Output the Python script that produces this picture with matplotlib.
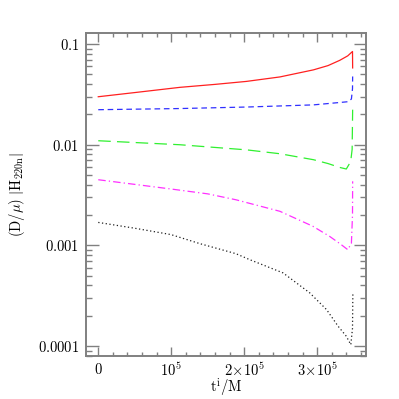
import matplotlib
matplotlib.use("Agg")
import matplotlib.pyplot as plt
from matplotlib.ticker import FixedLocator, LogLocator, NullFormatter, MultipleLocator

plt.rcParams['mathtext.fontset'] = 'cm'
plt.rcParams['font.family'] = 'serif'

# Data (t in units of M, values of (D/mu)|H_220n|)
t_red = [0, 0.5e5, 1.12e5, 1.6e5, 2.03e5, 2.49e5, 2.95e5, 3.15e5, 3.31e5, 3.42e5, 3.485e5, 3.487e5]
v_red = [0.0300, 0.0330, 0.0372, 0.0398, 0.0426, 0.0472, 0.0555, 0.0612, 0.0690, 0.0765, 0.0845, 0.058]

t_blue = [0, 1.12e5, 2.03e5, 2.95e5, 3.31e5, 3.43e5, 3.47e5, 3.485e5, 3.487e5]
v_blue = [0.0223, 0.0229, 0.0237, 0.0249, 0.0263, 0.0268, 0.0285, 0.036, 0.0477]

t_green = [0, 1.12e5, 2.03e5, 2.49e5, 2.95e5, 3.15e5, 3.31e5, 3.40e5, 3.46e5, 3.48e5, 3.487e5]
v_green = [0.01096, 0.0100, 0.0089, 0.00814, 0.0071, 0.0065, 0.00595, 0.00574, 0.0068, 0.009, 0.0223]

t_mag = [0, 1.0e5, 1.5e5, 1.886e5, 2.49e5, 2.94e5, 3.17e5, 3.32e5, 3.42e5, 3.47e5, 3.485e5, 3.487e5]
v_mag = [0.00449, 0.00363, 0.00325, 0.00284, 0.00218, 0.00155, 0.00123, 0.00103, 0.000906, 0.00105, 0.002, 0.00433]

t_blk = [0, 0.5e5, 0.996e5, 1.393e5, 1.886e5, 2.078e5, 2.534e5, 2.899e5, 3.129e5, 3.288e5, 3.40e5, 3.462e5, 3.485e5, 3.49e5]
v_blk = [0.00169, 0.00148, 0.00128, 0.00104, 0.000827, 0.00072, 0.000532, 0.000337, 0.00023, 0.000157, 0.000125, 0.000103, 0.00015, 0.000337]

xticks = [0, 1e5, 2e5, 3e5]
xticklabels = [r'$0$', r'$10^5$', r'$2\!\times\!10^5$', r'$3\!\times\!10^5$']
yticks = [1e-4, 1e-3, 1e-2, 1e-1]
yticklabels = [r'$0.0001$', r'$0.001$', r'$0.01$', r'$0.1$']

fig = plt.figure(figsize=(3.99, 3.99), dpi=100)
ax = fig.add_axes([86/399, 1-356/399, 280/399, 323/399])

lw = 0.9
ax.plot(t_red, v_red, color='#ff2020', lw=lw, ls='-')
ax.plot(t_blue, v_blue, color='#3030ff', lw=lw, ls=(0, (4.5, 3)))
ax.plot(t_green, v_green, color='#30f030', lw=lw, ls=(0, (10, 5)))
ax.plot(t_mag, v_mag, color='#ff30ff', lw=lw, ls=(0, (6, 2.5, 1, 2.5)))
ax.plot(t_blk, v_blk, color='#202020', lw=lw, ls=(0, (1, 2)))

ax.set_yscale('log')
ax.set_xlim(-1.68e4, 3.67e5)
ax.set_ylim(7.95e-5, 0.129)

ax.xaxis.set_major_locator(FixedLocator(xticks))
ax.xaxis.set_minor_locator(MultipleLocator(2e4))
ax.set_xticklabels(xticklabels)
ax.yaxis.set_major_locator(FixedLocator(yticks))
ax.yaxis.set_minor_locator(LogLocator(base=10, subs=range(2, 10)))
ax.yaxis.set_minor_formatter(NullFormatter())
ax.set_yticklabels(yticklabels)

gray = '#808080'
for s in ax.spines.values():
    s.set_color(gray)
    s.set_linewidth(1.4)
fs = 10.5
ax.tick_params(which='both', direction='in', top=True, right=True, color=gray, width=1.0, labelsize=fs)
ax.tick_params(axis='x', which='major', length=6.5, pad=4)
ax.tick_params(axis='x', which='minor', length=3)
ax.tick_params(axis='y', which='major', length=9, pad=5)
ax.tick_params(axis='y', which='minor', length=4.5)

ax.set_xlabel(r'$\mathrm{t^i/M}$', fontsize=fs, labelpad=-1)
ax.set_ylabel(r'$(\mathrm{D}/\mu)\ |\mathrm{H}_{220\mathrm{n}}|$', fontsize=fs, labelpad=8)

fig.savefig('out.png', dpi=100)
